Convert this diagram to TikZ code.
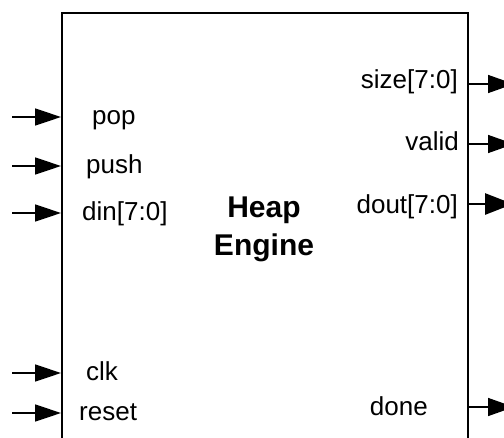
\documentclass[tikz,border=0pt]{standalone}
\usepackage{fontspec}
\setmainfont{Liberation Sans}
\usetikzlibrary{arrows.meta, positioning}

\tikzset{
	block/.style={draw, line width=1.5pt, inner sep=0pt, anchor=north west},
	portin/.style={line width=1.5pt, -{Triangle[length=26pt,width=17pt]}},
	portout/.style={line width=1.5pt, -{Triangle[length=26pt,width=18pt]}},
	busout/.style={line width=2.8pt, -{Triangle[length=28pt,width=21pt]}},
	portname/.style={inner sep=0pt, font=\fontsize{26}{30}\selectfont},
	title/.style={inner sep=0pt, align=center, font=\bfseries\fontsize{30}{38}\selectfont}
}

\begin{document}
\begin{tikzpicture}[x=1pt, y=-1pt]
	\useasboundingbox (0,0) rectangle (504,437);

	% the module body, open at the bottom
	\node[block, minimum width=406pt, minimum height=460pt] (engine) at (61,12) {};
	\node[title] (name) at (264,229) {Heap\\Engine};

	% inputs on the left side
	\foreach \pin/\y/\x/\txt in {pop/117/92/pop, push/166/86/push, din/213/82/{din[7:0]}, clk/373/86/clk, reset/413/79/reset}
	{
		\coordinate (\pin-src) at (12,\y);
		\coordinate (\pin-in) at (61,\y);
		\draw[portin] (\pin-src) -- (\pin-in);
		\node[portname, anchor=base west] (\pin-lbl) at (\x,\y+7) {\txt};
	}

	% outputs on the right side
	\foreach \pin/\y/\x/\dy/\txt in {size/84/458/4/{size[7:0]}, valid/144/459/6/valid, done/407/428/8/done}
	{
		\coordinate (\pin-out) at (467,\y);
		\coordinate (\pin-dst) at (514,\y);
		\draw[portout] (\pin-out) -- (\pin-dst);
		\node[portname, anchor=base east] (\pin-lbl) at (\x,\y+\dy) {\txt};
	}

	% data bus out
	\coordinate (dout-out) at (467,204);
	\coordinate (dout-dst) at (513,204);
	\draw[busout] (dout-out) -- (dout-dst);
	\node[portname, anchor=base east] (dout-lbl) at (458,213) {dout[7:0]};
\end{tikzpicture}
\end{document}
